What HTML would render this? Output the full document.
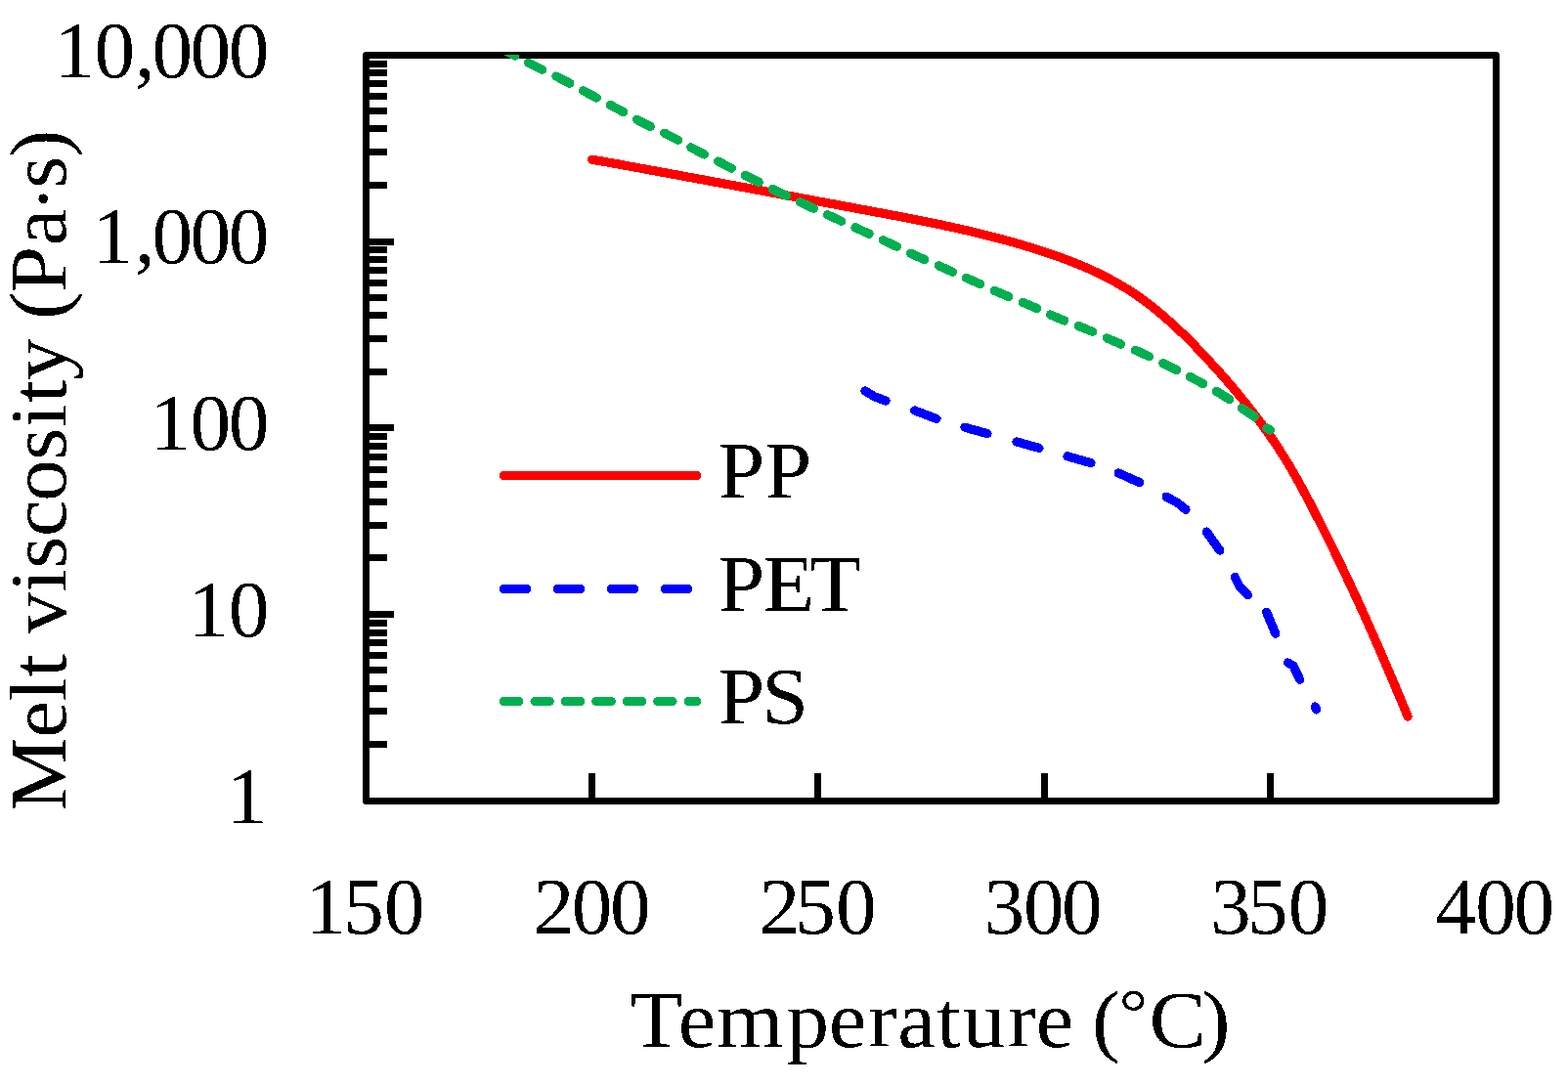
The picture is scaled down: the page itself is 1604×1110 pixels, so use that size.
<!DOCTYPE html>
<html lang="en">
<head>
<meta charset="utf-8">
<title>Melt viscosity vs temperature</title>
<style>
html,body{margin:0;padding:0;background:#fff;}
body{width:1604px;height:1110px;overflow:hidden;}
svg{display:block;}
text{white-space:pre;}
</style>
</head>
<body>
<svg width="1604" height="1110" viewBox="0 0 1604 1110" role="img" aria-label="Melt viscosity versus temperature for PP, PET and PS">
<rect x="0" y="0" width="1604" height="1110" fill="#fff"/>
<g id="axes" fill="none" stroke="#000" stroke-width="7" stroke-linecap="butt">
<rect x="374.5" y="56.5" width="1156.0" height="763.0" stroke-linejoin="round"/>
<path d="M374.5 65.5H396M374.5 74.5H396M374.5 85.5H396M374.5 98.5H396M374.5 113.5H396M374.5 131.5H396M374.5 155.5H396M374.5 189.5H396M374.5 247.5H403M374.5 255.5H396M374.5 265.5H396M374.5 276.5H396M374.5 289.5H396M374.5 304.5H396M374.5 322.5H396M374.5 346.5H396M374.5 380.5H396M374.5 437.5H403M374.5 446.5H396M374.5 456.5H396M374.5 467.5H396M374.5 480.5H396M374.5 495.5H396M374.5 513.5H396M374.5 537.5H396M374.5 570.5H396M374.5 628.5H403M374.5 637.5H396M374.5 647.5H396M374.5 657.5H396M374.5 670.5H396M374.5 685.5H396M374.5 704.5H396M374.5 727.5H396M374.5 761.5H396M605.5 819.5V791M836.5 819.5V791M1068.5 819.5V791M1299.5 819.5V791"/>
</g>
<clipPath id="pc"><rect x="374.5" y="56.0" width="1156.0" height="763.5"/></clipPath>
<g id="series" shape-rendering="crispEdges" fill="none" stroke-width="9.2" stroke-linecap="round" stroke-linejoin="round" clip-path="url(#pc)">
<path stroke="#ff0000" d="M605.48 163.11L616.38 165.08L627.29 167.05L638.19 169.03L649.09 171.02L659.99 173.01L670.89 175.01L681.78 177.02L692.68 179.02L703.57 181.04L714.47 183.05L725.36 185.08L736.25 187.1L747.14 189.13L758.03 191.16L768.92 193.19L779.81 195.22L790.7 197.26L801.59 199.29L812.48 201.33L823.37 203.36L834.26 205.4L845.15 207.43L856.04 209.47L866.93 211.5L877.83 213.53L888.72 215.56L899.61 217.6L910.51 219.65L921.39 221.72L932.27 223.83L943.14 225.98L953.99 228.19L964.83 230.47L975.65 232.81L986.46 235.24L997.24 237.77L1008 240.39L1018.73 243.13L1029.43 245.99L1040.11 248.99L1050.75 252.13L1061.35 255.41L1071.91 258.87L1082.41 262.51L1092.83 266.36L1103.14 270.45L1113.33 274.8L1123.37 279.43L1133.25 284.37L1142.94 289.64L1152.42 295.26L1161.67 301.27L1170.67 307.66L1179.45 314.4L1188.02 321.44L1196.38 328.74L1204.57 336.25L1212.58 343.95L1220.44 351.82L1228.16 359.82L1235.76 367.93L1243.25 376.14L1250.64 384.42L1257.91 392.79L1265.07 401.26L1272.09 409.81L1278.97 418.47L1285.7 427.24L1292.28 436.12L1298.68 445.12L1304.91 454.24L1310.95 463.48L1316.8 472.87L1322.44 482.39L1327.9 492.03L1333.21 501.77L1338.4 511.58L1343.51 521.43L1348.57 531.31L1353.59 541.21L1358.56 551.12L1363.48 561.06L1368.35 571.02L1373.16 581L1377.91 591L1382.61 601.02L1387.27 611.07L1391.87 621.14L1396.43 631.23L1400.95 641.34L1405.43 651.46L1409.87 661.61L1414.28 671.77L1418.65 681.94L1423 692.14L1427.31 702.34L1431.61 712.57L1435.88 722.8L1440.12 733.05"/>
<path stroke="#0000ff" d="M885 400L895 406L906 410M935.6 420L958 428.4M987 437.2L1010 443.6M1040 452L1063 458.4M1092 466.8L1116 473.6M1144.2 483.9L1165.9 493.7M1193.1 508.2L1204.8 514.6L1213 521.3M1234.3 544.1L1247.9 563.2M1263.2 590.2L1268.2 600.3L1276.6 608.9M1295.6 626.2L1304.7 648.1M1317.4 678L1323 681.1L1329.7 695.2M1345.4 723L1346.6 726"/>
<path stroke="#00b050" d="M513.02 49.83L526.78 56.97M540.68 64.31L554.52 71.29M569 78.07L582.8 85.13M596.56 92.75L610.24 100.05M624.17 107.34L637.83 114.66M651.52 122.34L665.28 129.46M679.71 136.24L693.49 143.36M706.74 150.79L720.46 158.01M734.5 165.07L748.3 172.13M762.48 179.51L776.32 186.49M790.42 193.43L804.38 200.17M818.38 206.73L832.42 213.27M846.56 219.76L860.64 226.24M874.95 232.77L889.05 239.23M903.38 245.72L917.42 252.28M931.55 259.18L945.65 265.62M960.31 271.88L974.49 278.12M988.32 284.25L1002.48 290.55M1017.28 297.33L1031.52 303.47M1046.28 309.34L1060.52 315.46M1074.46 321.99L1088.74 328.01M1103.24 333.43L1117.56 339.37M1132.28 345.93L1146.52 352.07M1161.34 358.19L1175.46 364.61M1189.66 371.55L1203.54 378.45M1217.18 385.32L1230.82 392.68M1244.43 400.3L1257.57 408.5M1270.29 417.54L1283.11 426.26M1296 438L1299.3 440.1"/>
</g>
<g id="legend" shape-rendering="crispEdges" fill="none" stroke-width="9.2" stroke-linecap="round">
<path stroke="#ff0000" d="M515.5 486.5H712.5"/>
<path stroke="#0000ff" d="M515.5 602.5H538.5M570.5 602.5H593.5M625.5 602.5H648.5M680.5 602.5H703.5"/>
<path stroke="#00b050" d="M515.5 717.5H530.8M546.95 717.5H562.25M578.4 717.5H593.7M609.85 717.5H625.15M641.3 717.5H656.6M672.75 717.5H688.05M704.2 717.5H712.5"/>
</g>
<filter id="bw" x="0" y="0" width="1604" height="1110" filterUnits="userSpaceOnUse" color-interpolation-filters="sRGB"><feComponentTransfer><feFuncA type="discrete" tableValues="0 1"/></feComponentTransfer></filter>
<g id="labels" filter="url(#bw)" font-family='"Liberation Serif", serif' fill="#000">
<text transform="translate(0 79)" font-size="83.2" x="55.49 96.6 137.64 155.4 194.6 233.8" y="0">10,000</text>
<text transform="translate(0 269)" font-size="83.2" x="94.69 137.64 155.4 194.6 233.8" y="0">1,000</text>
<text transform="translate(0 460)" font-size="83.2" x="153.49 194.6 233.8" y="0">100</text>
<text transform="translate(0 651)" font-size="83.2" x="192.69 233.8" y="0">10</text>
<text transform="translate(0 842)" font-size="83.2" x="231.89" y="0">1</text>
<text transform="translate(0 955)" font-size="83.2" x="312.59 351.31 392.9" y="0">150</text>
<text transform="translate(0 955)" font-size="83.2" x="545.87 584.7 623.9" y="0">200</text>
<text transform="translate(0 955)" font-size="83.2" x="776.87 813.31 854.9" y="0">250</text>
<text transform="translate(0 955)" font-size="83.2" x="1006.53 1046.9 1086.1" y="0">300</text>
<text transform="translate(0 955)" font-size="83.2" x="1238.13 1276.11 1317.7" y="0">350</text>
<text transform="translate(0 955)" font-size="83.2" x="1468.59 1509.3 1548.5" y="0">400</text>
<text transform="translate(0 1071) scale(1.0706 1.0000)" font-size="81.5" x="602.18 648 685.12 751.4 791.94 829.76 857.8 894.99 919.5 962.77 989.92 1026.09 1043.41 1069.35 1098.06 1148.47" y="0 0 0 0 0 0 0 0 0 0 0 0 0 -12.4 0 0">Temperature (<tspan font-size="68.46">°</tspan>C)</text>
<text transform="translate(67.2 829.5) rotate(-90) scale(1.0453 1.0000)" font-size="81.5" x="-0.34 71.52 107.25 131.06 153.7 173.25 214.37 236.98 268.32 302.88 343.07 375.13 399.02 421.5 462.25 480.97 507.3 553.11 585.39 609.02 639.48" y="0 0 0 0 0 0 0 0 0 0 0 0 0 0 0 0 0 0 4.5 0 0">Melt viscosity (Pa·s)</text>
<text transform="translate(0 509) scale(1.0300 1.0000)" font-size="83.5" x="713.12 759.73" y="0">PP</text>
<text transform="translate(0 625) scale(1.0300 1.0000)" font-size="83.5" x="713.12 757.95 804.19" y="0">PET</text>
<text transform="translate(0 740) scale(1.0300 1.0000)" font-size="83.5" x="713.12 756.58" y="0">PS</text>
</g>
</svg>
</body>
</html>
